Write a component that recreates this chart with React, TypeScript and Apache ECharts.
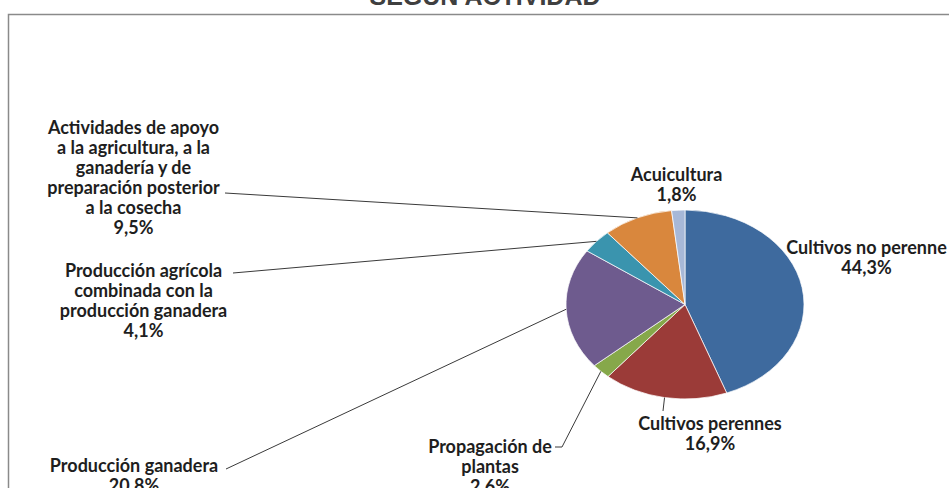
import React, { useEffect, useRef } from "react";
import * as echarts from "echarts";

const title = "SEGÚN ACTIVIDAD";
const categories = [
  "Cultivos no perenne",
  "Cultivos perennes",
  "Propagación de plantas",
  "Producción ganadera",
  "Producción agrícola combinada con la producción ganadera",
  "Actividades de apoyo a la agricultura, a la ganadería y de preparación posterior a la cosecha",
  "Acuicultura",
];
const labelLines = [
  ["Cultivos no perenne"],
  ["Cultivos perennes"],
  ["Propagación de", "plantas"],
  ["Producción ganadera"],
  ["Producción agrícola", "combinada con la", "producción ganadera"],
  ["Actividades de apoyo", "a la agricultura, a la", "ganadería y de", "preparación posterior", "a la cosecha"],
  ["Acuicultura"],
];
const values = [44.3, 16.9, 2.6, 20.8, 4.1, 9.5, 1.8];
const colors = ["#3E6A9E", "#9B3B38", "#86A84A", "#6E5B8E", "#3A94AE", "#D9873D", "#A7B8D7"];

// layout (positions / styles)
const CX = 685, CY = 304.5, RX = 119, RY = 94.5;
const labelPos = [
  { x: 866.5, y: 257 },
  { x: 710, y: 432.5 },
  { x: 490, y: 466 },
  { x: 134, y: 474.5 },
  { x: 143.5, y: 300 },
  { x: 133.5, y: 177 },
  { x: 676.5, y: 184 },
];
// label-side leader points (null = no leader)
const leaderStart: (number[][] | null)[] = [
  null,
  [[663, 411]],
  [[555, 447], [562, 447]],
  [[226, 469]],
  [[233, 273]],
  [[225, 193]],
  null,
];

const total = values.reduce((a, b) => a + b, 0);
const cum: number[] = [];
values.reduce((acc, v, i) => { cum[i] = acc; return acc + v; }, 0);

function fmt(v: number) {
  return v.toFixed(1).replace(".", ",") + "%";
}

export default function App() {
  const ref = useRef<HTMLDivElement>(null);
  useEffect(() => {
    if (!ref.current) return;
    const chart = echarts.init(ref.current, undefined, { renderer: "svg" });
    const font = "Lato, 'Noto Sans', sans-serif";
    const graphics: any[] = [];
    // chart area border
    graphics.push({
      type: "rect",
      shape: { x: 8.5, y: 14.5, width: 1100, height: 700 },
      style: { fill: "none", stroke: "#8a8a8a", lineWidth: 1.5 },
      z: 1,
    });
    graphics.push({
      type: "text",
      x: 485,
      y: 8,
      style: {
        text: title,
        fill: "#3f3f3f",
        font: "bold 25px 'Liberation Sans', Arial, sans-serif",
        textAlign: "center",
        textVerticalAlign: "bottom",
      },
      z: 5,
    });
    values.forEach((v, i) => {
      const mid = ((cum[i] + v / 2) / total) * Math.PI * 2;
      const ex = CX + RX * Math.sin(mid);
      const ey = CY - RY * Math.cos(mid);
      const ls = leaderStart[i];
      if (ls) {
        graphics.push({
          type: "polyline",
          shape: { points: [...ls, [ex, ey]] },
          style: { stroke: "#3a3a3a", lineWidth: 1, fill: "none" },
          z: 10,
        });
      }
      graphics.push({
        type: "text",
        x: labelPos[i].x,
        y: labelPos[i].y,
        style: {
          text: [...labelLines[i], fmt(v)].join("\n"),
          fill: "#1e1e1e",
          font: "bold 18px " + font,
          lineHeight: 20,
          textAlign: "center",
          textVerticalAlign: "middle",
        },
        z: 10,
      });
    });

    chart.setOption({
      animation: false,
      backgroundColor: "#ffffff",
      series: [
        {
          type: "custom",
          coordinateSystem: "none",
          data: values.map((v, i) => ({ value: v, name: categories[i] })),
          renderItem: (params: any, api: any) => {
            const i = params.dataIndex;
            const v = api.value(0);
            const start = (cum[i] / total) * Math.PI * 2 - Math.PI / 2;
            const end = start + (v / total) * Math.PI * 2;
            return {
              type: "group",
              x: CX,
              y: CY,
              scaleY: RY / RX,
              children: [
                {
                  type: "sector",
                  shape: { cx: 0, cy: 0, r: RX, r0: 0, startAngle: start, endAngle: end, clockwise: true },
                  style: { fill: colors[i], stroke: "#ffffff", lineWidth: 0.8 },
                },
              ],
            };
          },
        },
      ],
      graphic: graphics,
    });
    return () => chart.dispose();
  }, []);
  return (
    <div
      ref={ref}
      style={{ position: "fixed", left: 0, top: 0, width: 949, height: 488 }}
    />
  );
}
